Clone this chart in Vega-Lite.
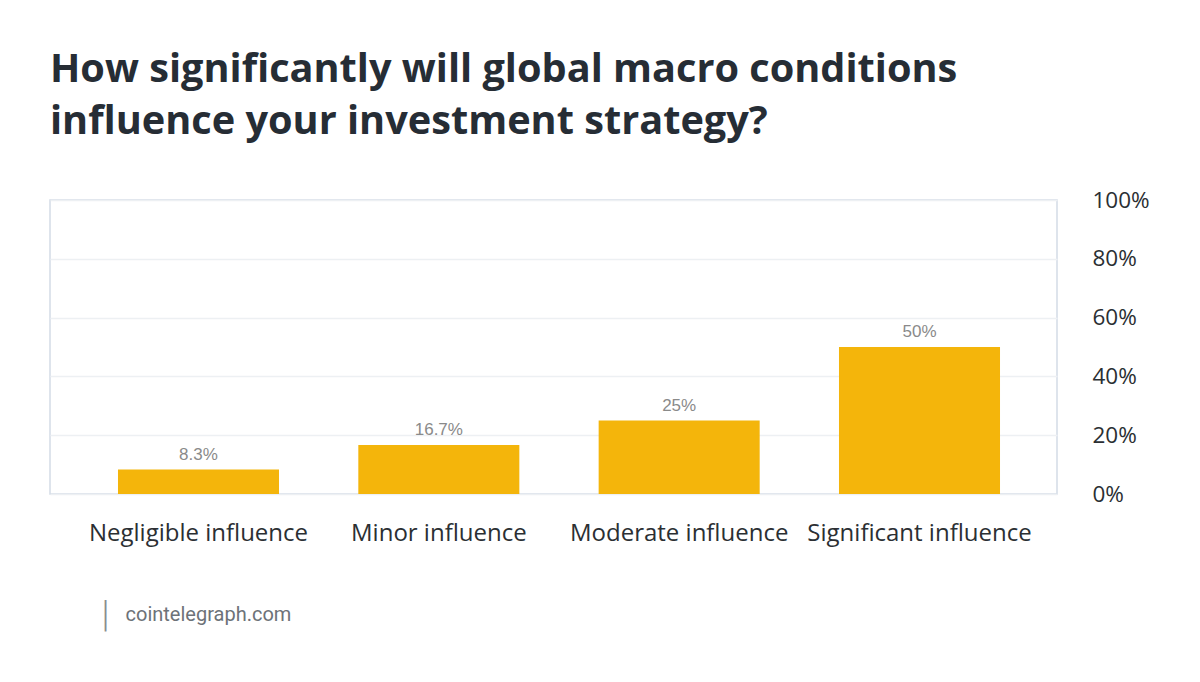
{
  "$schema": "https://vega.github.io/schema/vega-lite/v6.json",
  "width": 1007,
  "height": 294,
  "autosize": "none",
  "padding": {"left": 50, "top": 200, "right": 143, "bottom": 188},
  "background": "white",
  "config": {
    "view": {"stroke": "#d3dce6", "strokeWidth": 1.5},
    "font": "Open Sans"
  },
  "title": {
    "text": ["How significantly will global macro conditions", "influence your investment strategy?"],
    "anchor": "start",
    "frame": "group",
    "font": "Open Sans",
    "fontSize": 39.7,
    "fontWeight": "bold",
    "color": "#262d35",
    "lineHeight": 52,
    "offset": 46
  },
  "data": {
    "values": [
      {"answer": "Negligible influence", "share": 8.3, "label": "8.3%"},
      {"answer": "Minor influence", "share": 16.7, "label": "16.7%"},
      {"answer": "Moderate influence", "share": 25, "label": "25%"},
      {"answer": "Significant influence", "share": 50, "label": "50%"}
    ]
  },
  "encoding": {
    "x": {
      "field": "answer",
      "type": "nominal",
      "sort": null,
      "scale": {"paddingInner": 0.33, "paddingOuter": 0.26, "align": 0.544},
      "axis": {
        "title": "cointelegraph.com",
        "titleFont": "Roboto",
        "titleFontSize": 20,
        "titleFontWeight": "normal",
        "titleColor": "#6d7278",
        "titleAnchor": "start",
        "titleAlign": "left",
        "titleBaseline": "middle",
        "titleX": 75,
        "titleY": 120,
        "labelAngle": 0,
        "labelFontSize": 24,
        "labelColor": "#2b2f33",
        "labelPadding": 27,
        "labelLimit": 300,
        "ticks": false,
        "domain": false
      }
    },
    "y": {
      "field": "share",
      "type": "quantitative",
      "scale": {"domain": [0, 100]},
      "axis": {
        "orient": "right",
        "title": "|",
        "titleFont": "Roboto",
        "titleFontSize": 36,
        "titleFontWeight": 300,
        "titleColor": "#8a8d90",
        "titleAngle": 0,
        "titleAlign": "center",
        "titleBaseline": "middle",
        "titleX": -952,
        "titleY": 414,
        "values": [0, 20, 40, 60, 80, 100],
        "labelExpr": "datum.value + '%'",
        "labelFontSize": 22.5,
        "labelColor": "#2b2f33",
        "labelPadding": 35,
        "ticks": false,
        "domain": false,
        "gridColor": "#edf0f3",
        "gridWidth": 1.5
      }
    }
  },
  "layer": [
    {"mark": {"type": "bar", "color": "#f4b50b"}},
    {
      "mark": {"type": "text", "dy": -15, "font": "Liberation Sans", "fontSize": 17, "color": "#8a8a8a"},
      "encoding": {"text": {"field": "label"}}
    }
  ]
}
